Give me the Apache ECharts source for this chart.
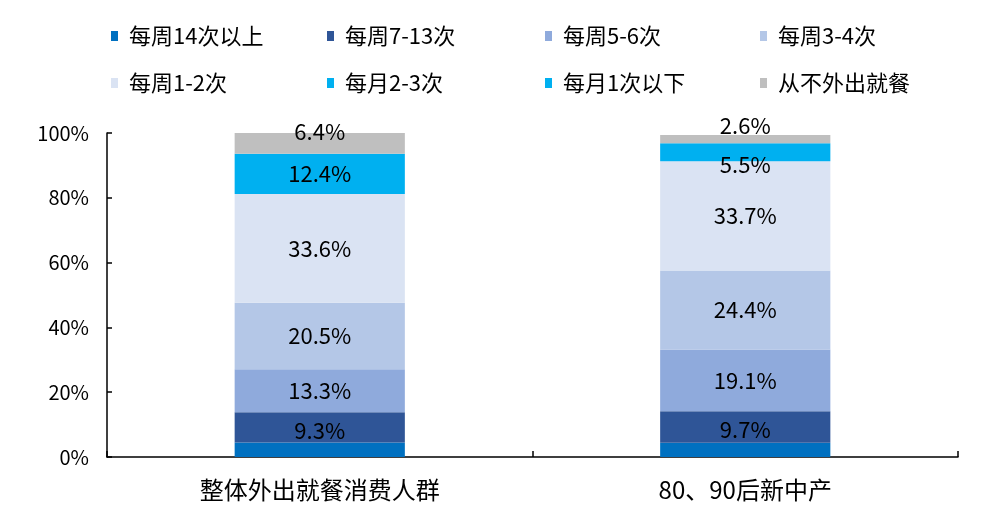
<!DOCTYPE html>
<html><head><meta charset="utf-8">
<script src="https://cdn.jsdelivr.net/npm/echarts@6/dist/echarts.min.js"></script>
<style>html,body{margin:0;padding:0;background:#fff}#c{width:1008px;height:520px}</style>
</head><body><div id="c"></div>
<script>
const categories = ['整体外出就餐消费人群', '80、90后新中产'];
const seriesNames = ['每周14次以上', '每周7-13次', '每周5-6次', '每周3-4次', '每周1-2次', '每月2-3次', '每月1次以下', '从不外出就餐'];
const v14plus = [4.5, 4.4];
const v7to13 = [9.3, 9.7];
const v5to6 = [13.3, 19.1];
const v3to4 = [20.5, 24.4];
const v1to2 = [33.6, 33.7];
const vM2to3 = [12.4, 5.5];
const vM1less = [0, 0];
const vNever = [6.4, 2.6];
const yTicks = ['0%', '20%', '40%', '60%', '80%', '100%'];

const values = [v14plus, v7to13, v5to6, v3to4, v1to2, vM2to3, vM1less, vNever];
const colors = ['#0070C0', '#2F5597', '#8FAADC', '#B4C7E7', '#DAE3F3', '#00B0F0', '#00B0F0', '#BFBFBF'];
const showLabel = [false, true, true, true, true, true, false, true];
// per-bar label nudges (styling only)
const labelOffsets = {1: [[0, 3], [0, 3]], 5: [[0, 0], [0, 12]], 7: [[0, -12], [0, -14]]};
const FONT = '"Noto Sans CJK SC", sans-serif';

const series = values.map((arr, i) => ({
  name: seriesNames[i],
  type: 'bar',
  stack: 'total',
  barWidth: '40%',
  itemStyle: {color: colors[i]},
  label: {
    show: showLabel[i],
    position: 'inside',
    color: '#000',
    fontSize: 22,
    fontFamily: FONT,
    formatter: p => p.value.toFixed(1) + '%'
  },
  data: arr.map((v, j) => {
    const o = {value: v};
    if (labelOffsets[i]) o.label = {offset: labelOffsets[i][j]};
    return o;
  })
}));

const colLeft = [111, 327, 545, 760];
const legends = colLeft.map((l, k) => ({
  orient: 'vertical',
  left: l,
  top: 25,
  padding: 0,
  itemGap: 25,
  itemWidth: 7,
  itemHeight: 10,
  icon: 'rect',
  selectedMode: false,
  data: [seriesNames[k], seriesNames[k + 4]],
  textStyle: {fontSize: 22, color: '#000', fontFamily: FONT, padding: [0, 0, 0, 6]}
}));

const chart = echarts.init(document.getElementById('c'));
chart.setOption({
  animation: false,
  color: colors,
  legend: legends,
  grid: {left: 107, right: 50, top: 133, bottom: 63, containLabel: false},
  xAxis: {
    type: 'category',
    data: categories,
    axisLine: {lineStyle: {color: '#000', width: 1.5}},
    axisTick: {show: true, inside: true, length: 6, lineStyle: {color: '#000', width: 1.5}},
    axisLabel: {color: '#000', fontSize: 24, fontFamily: FONT, margin: 21}
  },
  yAxis: {
    type: 'value',
    min: 0, max: 100, interval: 20,
    axisLine: {show: true, lineStyle: {color: '#000', width: 1.5}},
    axisTick: {show: true, inside: true, length: 5, lineStyle: {color: '#000', width: 1.5}},
    splitLine: {show: false},
    axisLabel: {color: '#000', fontSize: 20, fontFamily: FONT, margin: 18,
      formatter: v => yTicks[Math.round(v / 20)]}
  },
  series: series
});
</script></body></html>
